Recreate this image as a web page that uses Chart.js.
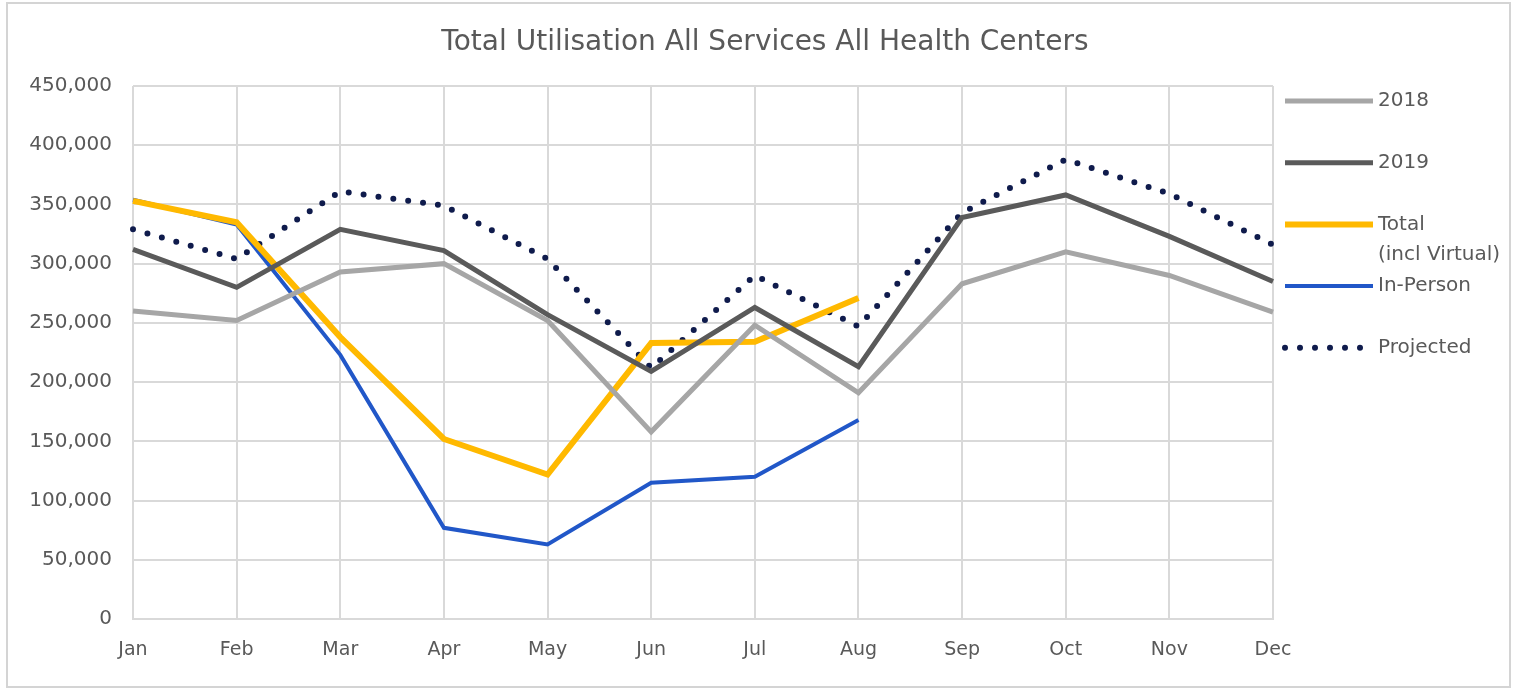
<!DOCTYPE html>
<html>
<head>
<meta charset="utf-8">
<script src="https://cdn.jsdelivr.net/npm/chart.js@4"></script>
<style>
  html, body { margin: 0; padding: 0; background: #fff; }
  #wrap { position: relative; width: 1523px; height: 693px; }
  #frame { position: absolute; left: 6px; top: 2px; width: 1505px; height: 686px; border: 2px solid #d4d4d4; box-sizing: border-box; }
  canvas { position: absolute; left: 0; top: 0; }
</style>
</head>
<body>
<div id="wrap">
  <div id="frame"></div>
  <canvas id="grafico" width="1523" height="693"></canvas>
</div>
<script>
const meses = ["Jan", "Feb", "Mar", "Apr", "May", "Jun", "Jul", "Aug", "Sep", "Oct", "Nov", "Dec"];
const ticksY = [0, 50000, 100000, 150000, 200000, 250000, 300000, 350000, 400000, 450000];

const ano2018 = [260000, 252000, 293000, 300000, 252000, 158000, 248000, 191000, 283000, 310000, 290000, 259000];
const ano2019 = [312000, 280000, 329000, 311000, 257000, 209000, 263000, 213000, 339000, 358000, 323000, 285000];
const totalVirtual = [353000, 335000, 238000, 152000, 122000, 233000, 234000, 271000, null, null, null, null];
const presencial = [354000, 333000, 223000, 77000, 63000, 115000, 120000, 168000, null, null, null, null];
const projetado = [329000, 304000, 361000, 349000, 304000, 212000, 290000, 247000, 343000, 388000, 359000, 316000];

const legendas = [["2018"], ["2019"], ["Total", "(incl Virtual)"], ["In-Person"], ["Projected"]];

const fonte = "'DejaVu Sans', sans-serif";
const cinzaTexto = "#595959";

// legenda do lado direito, desenhada na mão (Chart.js não quebra linha no texto)
const legendaLateral = {
  id: "legendaLateral",
  afterDraw(chart) {
    const ctx = chart.ctx;
    const x0 = chart.chartArea.right + 10;
    const topo = chart.chartArea.top + 15;
    ctx.save();
    ctx.font = "20px " + fonte;
    ctx.fillStyle = cinzaTexto;
    ctx.textBaseline = "middle";
    chart.data.datasets.forEach((ds, i) => {
      const y = topo + i * 61.7;
      ctx.beginPath();
      ctx.strokeStyle = ds.borderColor;
      ctx.lineWidth = ds.borderWidth;
      ctx.lineCap = ds.borderCapStyle || "butt";
      ctx.setLineDash(ds.borderDash || []);
      ctx.moveTo(x0 + 2, y);
      ctx.lineTo(x0 + 90, y);
      ctx.stroke();
      ctx.setLineDash([]);
      legendas[i].forEach((linha, j) => {
        ctx.fillText(linha, x0 + 95, y + j * 30);
      });
    });
    // título
    ctx.font = "28px " + fonte;
    ctx.textAlign = "center";
    ctx.textBaseline = "middle";
    ctx.fillText("Total Utilisation All Services All Health Centers", 765, 43);
    ctx.restore();
  }
};

const ctx = document.getElementById("grafico");

new Chart(ctx, {
  type: "line",
  data: {
    labels: meses,
    datasets: [
      { label: "2018", data: ano2018, borderColor: "#a6a6a6", borderWidth: 5 },
      { label: "2019", data: ano2019, borderColor: "#5a5a5a", borderWidth: 5 },
      { label: "Total (incl Virtual)", data: totalVirtual, borderColor: "#ffb900", borderWidth: 6 },
      { label: "In-Person", data: presencial, borderColor: "#2157c8", borderWidth: 4 },
      { label: "Projected", data: projetado, borderColor: "#0f1b4c", borderWidth: 6,
        borderDash: [0, 15], borderCapStyle: "round" }
    ]
  },
  options: {
    responsive: false,
    animation: false,
    elements: {
      point: { radius: 0, hoverRadius: 0 },
      line: { tension: 0, fill: false }
    },
    layout: { padding: { left: 0, right: 250, top: 86, bottom: 0 } },
    plugins: {
      legend: { display: false },
      title: { display: false },
      tooltip: { enabled: false }
    },
    scales: {
      x: {
        offset: false,
        grid: { color: "#d9d9d9", lineWidth: 2, drawTicks: false },
        border: { color: "#d9d9d9", width: 2 },
        ticks: { color: cinzaTexto, font: { family: fonte, size: 19 }, padding: 20, maxRotation: 0 },
        afterFit(scale) { scale.height = 74; }
      },
      y: {
        min: 0,
        max: 450000,
        afterBuildTicks(scale) { scale.ticks = ticksY.map(v => ({ value: v })); },
        grid: { color: "#d9d9d9", lineWidth: 2, drawTicks: false },
        border: { display: false },
        ticks: {
          color: cinzaTexto,
          font: { family: fonte, size: 20 },
          padding: 21,
          callback: v => v.toLocaleString("en-US")
        },
        afterFit(scale) { scale.width = 133; }
      }
    }
  },
  plugins: [legendaLateral]
});
</script>
</body>
</html>
